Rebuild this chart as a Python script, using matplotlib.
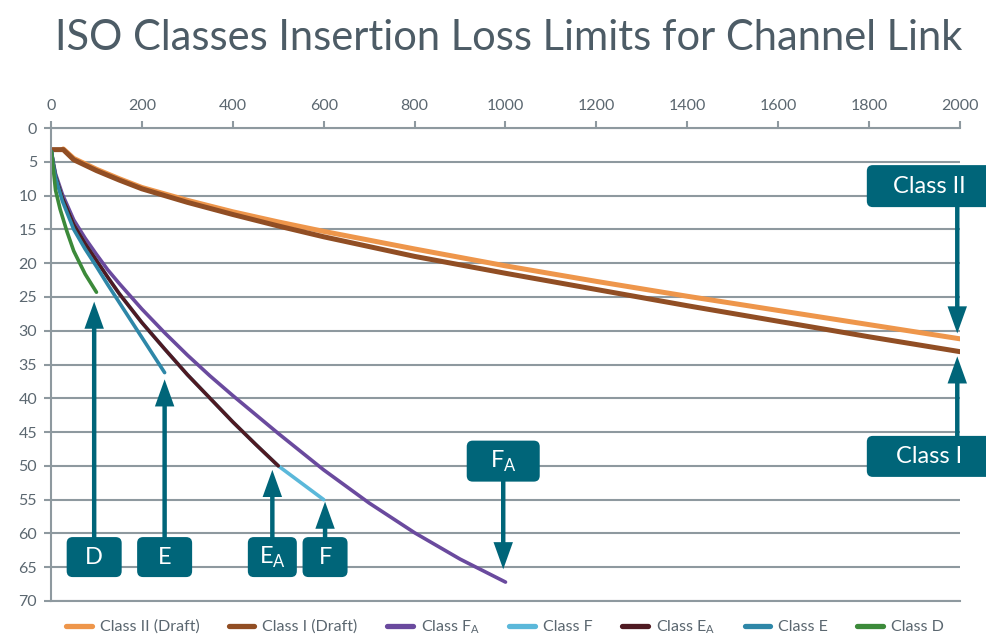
import matplotlib
matplotlib.use("Agg")
import matplotlib.pyplot as plt
from matplotlib.patches import FancyBboxPatch
from matplotlib.transforms import IdentityTransform

# ---------------- data (frequency in MHz, insertion loss in dB)
freq_II = [27, 50, 100, 150, 200, 300, 400, 500, 600, 800, 1000, 1200, 1400, 1600, 1800, 2000]
loss_II = [3.1, 4.5, 6.1, 7.5, 8.8, 10.7, 12.4, 13.9, 15.3, 17.9, 20.4, 22.7, 24.9, 27.0, 29.1, 31.2]

freq_I = [1, 27, 50, 100, 150, 200, 300, 400, 500, 600, 800, 1000, 1200, 1400, 1600, 1800, 2000]
loss_I = [3.2, 3.2, 4.7, 6.3, 7.7, 9.0, 11.0, 12.8, 14.5, 16.1, 19.0, 21.5, 23.9, 26.3, 28.6, 30.9, 33.1]

freq_FA = [1, 5, 10, 25, 50, 75, 100, 125, 150, 200, 250, 300, 350, 400, 500, 600, 700, 800, 900, 1000]
loss_FA = [3.5, 5.1, 6.8, 9.8, 13.6, 16.3, 18.7, 21.0, 23.0, 26.8, 30.3, 33.6, 36.7, 39.6, 45.2, 50.6, 55.5, 59.9, 63.8, 67.2]

freq_EA = [1, 5, 10, 25, 50, 75, 100, 125, 150, 200, 250, 300, 350, 400, 450, 500]
loss_EA = [3.5, 5.3, 7.1, 10.3, 14.3, 17.1, 19.6, 22.1, 24.5, 28.8, 32.7, 36.5, 40.0, 43.5, 46.8, 50.0]

freq_F = freq_EA + [550, 600]
loss_F = loss_EA + [52.5, 55.0]

freq_E = [1, 5, 10, 25, 50, 75, 100, 125, 150, 200, 250]
loss_E = [3.5, 5.5, 7.3, 10.8, 15.0, 17.9, 20.5, 23.2, 25.8, 31.0, 36.2]

freq_D = [1, 5, 10, 20, 35, 50, 75, 100]
loss_D = [3.5, 6.0, 9.2, 12.0, 15.3, 18.2, 21.6, 24.3]

# ---------------- colours
TEAL = "#006579"
GRID = "#8e999f"
TXT = "#5b6770"

plt.rcParams["font.family"] = ["Lato", "DejaVu Sans"]

fig = plt.figure(figsize=(9.87, 6.43), dpi=100)
ax = fig.add_axes([51 / 987, 1 - 601 / 643, 909 / 987, 473 / 643])

# curves (later ones on top, like the original)
ax.plot(freq_II, loss_II, color="#ee964b", lw=3.6, solid_capstyle="round", label="Class II (Draft)")
ax.plot(freq_I, loss_I, color="#914e24", lw=3.6, solid_capstyle="round", label="Class I (Draft)")
ax.plot(freq_FA, loss_FA, color="#6a4a9e", lw=2.6, solid_capstyle="round", label=r"Class F$_{\mathregular{A}}$")
ax.plot(freq_F, loss_F, color="#5bb8da", lw=2.6, solid_capstyle="round", label="Class F")
ax.plot(freq_EA, loss_EA, color="#4f1a22", lw=2.6, solid_capstyle="round", label=r"Class E$_{\mathregular{A}}$")
ax.plot(freq_E, loss_E, color="#2e87a8", lw=2.6, solid_capstyle="round", label="Class E")
ax.plot(freq_D, loss_D, color="#3c8a3a", lw=2.6, solid_capstyle="round", label="Class D")

ax.set_xlim(0, 2000)
ax.set_ylim(70, 0)
ax.xaxis.tick_top()
ax.set_xticks(range(0, 2001, 200))
ax.set_yticks(range(0, 71, 5))
ax.grid(axis="y", color=GRID, lw=1.5)
ax.set_axisbelow(True)
for side in ["top", "bottom", "left"]:
    ax.spines[side].set_color(GRID)
    ax.spines[side].set_linewidth(1.5)
ax.spines["right"].set_visible(False)
ax.tick_params(axis="x", top=True, bottom=False, length=5, width=1.5, color=GRID,
               labelsize=11.5, labelcolor=TXT, pad=6)
ax.tick_params(axis="y", length=5, width=1.5, color=GRID, labelsize=11.5, labelcolor=TXT, pad=5)

fig.text(0.515, 0.941, "ISO Classes Insertion Loss Limits for Channel Link",
         ha="center", va="center", fontsize=30, color="#4d5c66")

# ---------------- callout boxes with arrows
# label, box centre (MHz, dB), box size (px), arrow tip (MHz, dB)
callouts = [
    ("D", (95, 63.5), (55, 40), (95, 25.7)),
    ("E", (250, 63.5), (55, 40), (250, 37.2)),
    (r"E$_{\mathregular{A}}$", (487, 63.5), (49, 40), (487, 50.6)),
    ("F", (603, 63.5), (45, 40), (603, 55.3)),
    (r"F$_{\mathregular{A}}$", (995, 49.3), (73, 41), (995, 65.3)),
    ("Class II", (1938, 8.6), (130, 42), (1994, 30.4)),
    ("Class I", (1938, 48.6), (130, 41), (1994, 33.8)),
]

for label, (bx, by), (bw, bh), (tx, ty) in callouts:
    side_box = label.startswith("Class")
    sx = tx if side_box else bx
    ax.annotate("", xy=(tx, ty), xytext=(sx, by), annotation_clip=False,
                arrowprops=dict(arrowstyle="simple,head_length=1.95,head_width=1.4,tail_width=0.32",
                                mutation_scale=10, fc=TEAL, ec="none", shrinkA=0, shrinkB=0),
                zorder=6)
    px, py = ax.transData.transform((bx, by))
    box = FancyBboxPatch((px - bw / 2, py - bh / 2), bw, bh,
                         boxstyle="round,pad=0,rounding_size=6", transform=IdentityTransform(),
                         fc=TEAL, ec="none", zorder=7, clip_on=False)
    ax.add_artist(box)
    lx = 1932 if side_box else bx
    ax.text(lx, by, label, ha="center", va="center", color="white",
            fontsize=17, zorder=8, clip_on=False)

leg = fig.legend(loc="center", bbox_to_anchor=(505 / 987, 1 - 627 / 643), ncol=7, frameon=False,
                 fontsize=11.5, labelcolor=TXT, handlelength=1.6, handletextpad=0.5,
                 columnspacing=1.85)
for h in leg.legend_handles:
    h.set_linewidth(3.8)

fig.savefig("out.png", dpi=100)
